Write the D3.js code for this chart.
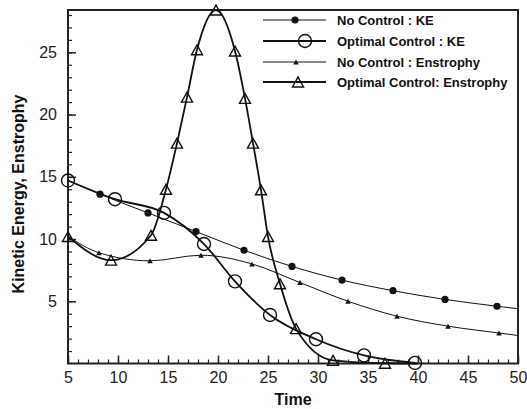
<!DOCTYPE html>
<html>
<head>
<meta charset="utf-8">
<script src="https://cdn.jsdelivr.net/npm/d3@7"></script>
<style>
  body { margin: 0; background: #fff; }
  svg { display: block; font-family: "Liberation Sans", Arial, Helvetica, sans-serif; }
  .tick text { font-size: 16px; fill: #222; }
  .legenda { font-size: 13px; font-weight: bold; fill: #111; }
  .titulo { font-size: 16px; font-weight: bold; fill: #111; }
</style>
</head>
<body>
<div id="grafico"></div>
<script>
// Dados
const xTicks = [5, 10, 15, 20, 25, 30, 35, 40, 45, 50];
const yTicks = [5, 10, 15, 20, 25];

const semControleKE_t = [5, 8.2, 13, 17.8, 22.6, 27.4, 32.4, 37.5, 42.7, 47.9, 50];
const semControleKE_v = [14.7, 13.6, 12.1, 10.6, 9.1, 7.8, 6.7, 5.85, 5.15, 4.6, 4.4];

const otimoKE_t = [5, 9.7, 14.6, 18.6, 21.7, 25.2, 29.8, 34.6, 39.7];
const otimoKE_v = [14.7, 13.2, 12.1, 9.6, 6.6, 3.9, 1.95, 0.65, 0.05];

const semControleEns_t = [5, 8.1, 13.2, 18.3, 23.4, 28.2, 33, 37.9, 43, 48.1, 50];
const semControleEns_v = [10.2, 8.9, 8.25, 8.7, 8.0, 6.5, 5.0, 3.8, 3.0, 2.45, 2.25];

const otimoEns_t = [5, 9.3, 13.3, 14.8, 15.9, 16.9, 17.9, 19.8, 21.7, 22.7, 23.5, 24.3, 25.0, 26.2, 27.8, 31.5, 36.7, 40];
const otimoEns_v = [10.2, 8.3, 10.3, 14.0, 17.7, 21.4, 25.2, 28.4, 25.1, 21.3, 17.7, 13.95, 10.2, 6.4, 2.8, 0.25, 0.02, 0];

const nomes = ["No Control : KE", "Optimal Control : KE", "No Control : Enstrophy", "Optimal Control: Enstrophy"];

function criarGrafico() {
    const largura = 527;
    const altura = 409;
    const margem = { top: 10, right: 9, bottom: 45.5, left: 68 };

    const svg = d3.select("#grafico")
        .append("svg")
        .attr("width", largura)
        .attr("height", altura);

    const x = d3.scaleLinear().domain([5, 50]).range([margem.left, largura - margem.right]);
    const y = d3.scaleLinear().domain([0, 28.4]).range([altura - margem.bottom, margem.top]);

    // Ticks menores
    svg.append("g")
        .attr("transform", `translate(0,${y(0)})`)
        .call(d3.axisBottom(x).tickValues(d3.range(5, 51, 1)).tickSizeInner(-4).tickSizeOuter(0).tickFormat(""))
        .call(g => g.select(".domain").remove())
        .selectAll("line").attr("stroke", "#222").attr("stroke-width", 1.2);
    svg.append("g")
        .attr("transform", `translate(${x(5)},0)`)
        .call(d3.axisLeft(y).tickValues(d3.range(1, 29, 1)).tickSizeInner(-4).tickSizeOuter(0).tickFormat(""))
        .call(g => g.select(".domain").remove())
        .selectAll("line").attr("stroke", "#222").attr("stroke-width", 1.2);

    // Eixos principais
    svg.append("g")
        .attr("transform", `translate(0,${y(0)})`)
        .call(d3.axisBottom(x).tickValues(xTicks).tickSizeInner(-8).tickSizeOuter(0).tickPadding(8))
        .call(g => g.select(".domain").remove())
        .selectAll("line").attr("stroke", "#222").attr("stroke-width", 1.5);
    svg.append("g")
        .attr("transform", `translate(${x(5)},0)`)
        .call(d3.axisLeft(y).tickValues(yTicks).tickSizeInner(-8).tickSizeOuter(0).tickPadding(11))
        .call(g => g.select(".domain").remove())
        .selectAll("line").attr("stroke", "#222").attr("stroke-width", 1.5);

    svg.selectAll(".tick text").attr("font-family", null).attr("font-size", null);

    // Moldura
    svg.append("rect")
        .attr("x", x(5)).attr("y", y(28.4))
        .attr("width", x(50) - x(5)).attr("height", y(0) - y(28.4))
        .attr("fill", "none").attr("stroke", "#222").attr("stroke-width", 2);

    const linha = d3.line()
        .x(d => x(d[0]))
        .y(d => y(d[1]))
        .curve(d3.curveMonotoneX);

    function triangulo(s) {
        const h = s * 0.9;
        return `M0,${-h / 2}L${s / 2},${h / 2}L${-s / 2},${h / 2}Z`;
    }

    const series = [
        { t: semControleKE_t, v: semControleKE_v, larg: 1, marca: "ponto", ini: 1, fim: 1 },
        { t: otimoKE_t, v: otimoKE_v, larg: 1.8, marca: "circulo", ini: 0, fim: 0 },
        { t: semControleEns_t, v: semControleEns_v, larg: 1, marca: "tri", ini: 1, fim: 1 },
        { t: otimoEns_t, v: otimoEns_v, larg: 1.8, marca: "triAberto", ini: 0, fim: 1 }
    ];

    function desenharMarca(g, tipo, cx, cy) {
        if (tipo === "ponto") {
            g.append("circle").attr("cx", cx).attr("cy", cy).attr("r", 3.6).attr("fill", "#111");
        } else if (tipo === "circulo") {
            g.append("circle").attr("cx", cx).attr("cy", cy).attr("r", 6.5)
                .attr("fill", "none").attr("stroke", "#111").attr("stroke-width", 1.4);
        } else if (tipo === "tri") {
            g.append("path").attr("d", triangulo(5.5)).attr("transform", `translate(${cx},${cy})`)
                .attr("fill", "#111");
        } else {
            g.append("path").attr("d", triangulo(11)).attr("transform", `translate(${cx},${cy})`)
                .attr("fill", "none").attr("stroke", "#111").attr("stroke-width", 1.4);
        }
    }

    series.forEach(s => {
        const pts = s.t.map((t, i) => [t, s.v[i]]);
        svg.append("path")
            .datum(pts)
            .attr("d", linha)
            .attr("fill", "none")
            .attr("stroke", "#111")
            .attr("stroke-width", s.larg);
        const g = svg.append("g");
        pts.slice(s.ini, pts.length - s.fim).forEach(p => desenharMarca(g, s.marca, x(p[0]), y(p[1])));
    });

    // Legenda
    const legY = [20, 41, 62, 82];
    const legMarcaX = [295, 305, 296, 298];
    series.forEach((s, i) => {
        svg.append("line")
            .attr("x1", 263).attr("x2", 326)
            .attr("y1", legY[i]).attr("y2", legY[i])
            .attr("stroke", "#111").attr("stroke-width", s.larg);
        desenharMarca(svg, s.marca, legMarcaX[i], legY[i]);
        svg.append("text")
            .attr("class", "legenda")
            .attr("x", 337).attr("y", legY[i])
            .attr("dy", "0.35em")
            .text(nomes[i]);
    });

    // Títulos dos eixos
    svg.append("text")
        .attr("class", "titulo")
        .attr("x", 293).attr("y", 405)
        .attr("text-anchor", "middle")
        .text("Time");
    svg.append("text")
        .attr("class", "titulo")
        .attr("transform", "translate(24,194) rotate(-90)")
        .attr("text-anchor", "middle")
        .text("Kinetic Energy, Enstrophy");
}

criarGrafico();
</script>
</body>
</html>
